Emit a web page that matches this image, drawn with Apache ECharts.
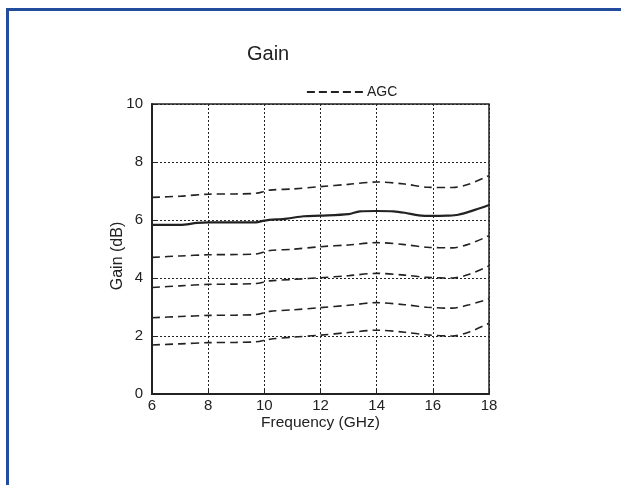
<!DOCTYPE html>
<html>
<head>
<meta charset="utf-8">
<script src="https://cdn.jsdelivr.net/npm/echarts@6/dist/echarts.min.js"></script>
<style>
html,body{margin:0;padding:0;background:#fff;}
#wrap{position:relative;width:621px;height:485px;overflow:hidden;background:#fff;}
#frame{position:absolute;left:6px;top:8px;width:700px;height:600px;border-left:3px solid #244c9c;border-top:3px solid #244c9c;box-sizing:border-box;}
#chart{position:absolute;left:0;top:0;width:621px;height:485px;}
</style>
</head>
<body>
<div id="wrap"><div id="frame"></div><div id="chart"></div></div>
<script>
var freqTicks = [6, 8, 10, 12, 14, 16, 18];
var gainTicks = [0, 2, 4, 6, 8, 10];

var freqMain = [6, 7, 7.6, 8, 9, 9.7, 10, 10.8, 11.4, 12, 13, 13.4, 14, 14.6, 15, 15.5, 16, 16.5, 16.9, 17.5, 18];
var gainMain = [5.83, 5.83, 5.9, 5.92, 5.92, 5.92, 5.98, 6.05, 6.13, 6.15, 6.2, 6.3, 6.31, 6.3, 6.25, 6.16, 6.14, 6.15, 6.18, 6.35, 6.52];

var freqAgc = [6, 7, 8, 9, 9.7, 10.2, 11, 12, 13, 14, 15, 15.8, 16.7, 17.3, 18];
var agc1 = [6.78, 6.82, 6.89, 6.9, 6.92, 7.03, 7.07, 7.15, 7.23, 7.31, 7.24, 7.13, 7.12, 7.24, 7.53];
var agc2 = [4.71, 4.76, 4.8, 4.81, 4.83, 4.95, 4.99, 5.08, 5.14, 5.22, 5.15, 5.06, 5.04, 5.17, 5.46];
var agc3 = [3.67, 3.73, 3.78, 3.79, 3.81, 3.9, 3.95, 4.01, 4.08, 4.16, 4.1, 4.02, 4.0, 4.13, 4.42];
var agc4 = [2.63, 2.67, 2.71, 2.72, 2.74, 2.85, 2.9, 2.98, 3.06, 3.15, 3.08, 2.99, 2.96, 3.08, 3.28];
var agc5 = [1.69, 1.73, 1.77, 1.78, 1.8, 1.89, 1.96, 2.03, 2.12, 2.2, 2.13, 2.04, 2.0, 2.14, 2.44];

function pairs(xs, ys) { return xs.map(function (x, i) { return [x, ys[i]]; }); }

var font = 'Liberation Sans, Arial, Helvetica, sans-serif';
var ink = '#222';

function agcSeries(vals) {
  return {
    name: 'AGC', type: 'line', data: pairs(freqAgc, vals), smooth: 0.3,
    symbol: 'none', lineStyle: { color: ink, width: 1.6, type: [8, 5] },
    itemStyle: { color: ink }
  };
}

var chart = echarts.init(document.getElementById('chart'), null, { renderer: 'canvas' });
chart.setOption({
  animation: false,
  backgroundColor: 'transparent',
  textStyle: { fontFamily: font },
  title: {
    text: 'Gain', left: 242, top: 39,
    textStyle: { fontFamily: font, fontSize: 20, fontWeight: 'normal', color: ink }
  },
  legend: {
    data: ['AGC'], left: 301, top: 80, itemWidth: 56, itemHeight: 12, itemGap: 4,
    itemStyle: { opacity: 0 },
    lineStyle: { width: 1.8, type: [8, 4] },
    textStyle: { fontFamily: font, fontSize: 14, color: ink, padding: [0, 0, 0, -1] }
  },
  grid: {
    left: 152, right: 132, top: 104, bottom: 91,
    show: true, borderColor: ink, borderWidth: 1.5, backgroundColor: 'transparent'
  },
  xAxis: {
    type: 'value', min: freqTicks[0], max: freqTicks[freqTicks.length - 1], interval: 2,
    name: 'Frequency (GHz)', nameLocation: 'middle', nameGap: 21, nameMoveOverlap: false,
    nameTextStyle: { fontFamily: font, fontSize: 15.5, color: ink },
    axisLine: { lineStyle: { color: ink, width: 2 } },
    axisTick: { show: true, inside: true, length: 4, lineStyle: { color: ink } },
    axisLabel: { fontFamily: font, fontSize: 15, color: ink, margin: 4 },
    splitLine: { show: true, lineStyle: { color: ink, width: 1, type: [2, 2] } }
  },
  yAxis: {
    type: 'value', min: gainTicks[0], max: gainTicks[gainTicks.length - 1], interval: 2,
    name: 'Gain (dB)', nameLocation: 'middle', nameGap: 26, nameMoveOverlap: false,
    nameTextStyle: { fontFamily: font, fontSize: 16, color: ink, padding: [0, 14, 0, 0] },
    axisLine: { show: true, lineStyle: { color: ink, width: 2 } },
    axisTick: { show: true, inside: true, length: 4, lineStyle: { color: ink } },
    axisLabel: { fontFamily: font, fontSize: 15, color: ink, margin: 9 },
    splitLine: { show: true, lineStyle: { color: ink, width: 1, type: [2, 2] } }
  },
  series: [
    {
      name: 'Gain', type: 'line', data: pairs(freqMain, gainMain), smooth: 0.3,
      symbol: 'none', lineStyle: { color: ink, width: 2.2 }, itemStyle: { color: ink }
    },
    agcSeries(agc1), agcSeries(agc2), agcSeries(agc3), agcSeries(agc4), agcSeries(agc5)
  ]
});
</script>
</body>
</html>
